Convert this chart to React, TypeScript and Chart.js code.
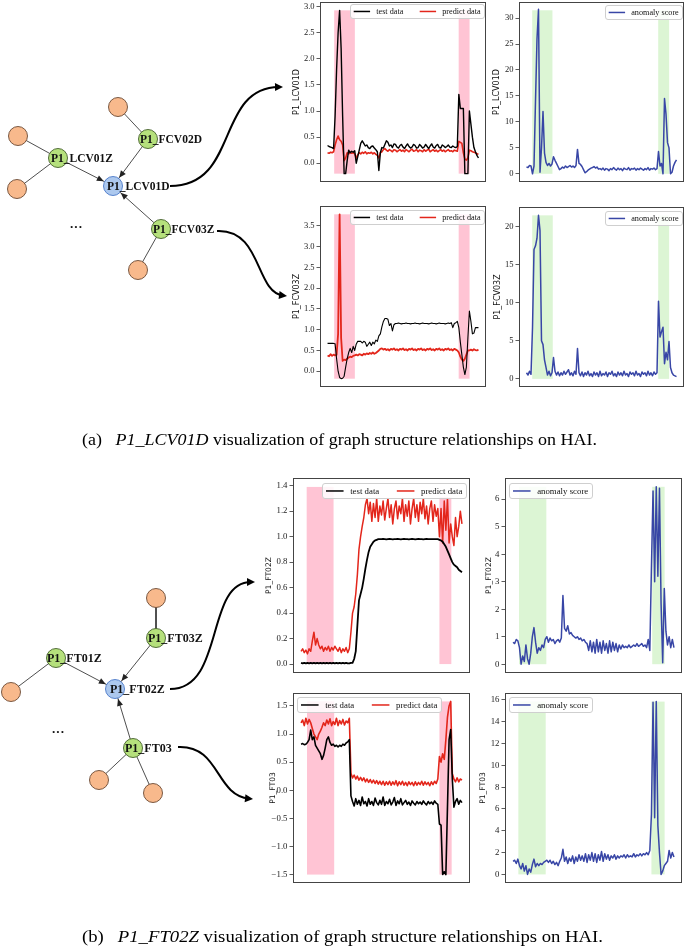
import React, { useEffect, useRef } from "react";
import { Chart, registerables } from "chart.js";

Chart.register(...registerables);

const SERIF = '"Liberation Serif", "Times New Roman", serif';
const SANS = '"DejaVu Sans", "Liberation Sans", sans-serif';

const C_TEST = "#000000";
const C_PRED = "#e3261b";
const C_SCORE = "#3846a6";
const C_PINK = "#ffc4d4";
const C_GREEN = "#dcf5d4";

// ---------------- data (index 0..100 along the time axis) ----------------
const LCV01D_test = [
  0.34, 0.32, 0.31, 0.3, 0.28, 0.9, 1.8, 2.5, 2.93, 2.2,
  0.9, -0.2, -0.2, 0.05, 0.25, 0.2, 0.23, 0.21, 0.24, 0.0,
  0.12, 0.25, 0.38, 0.43, 0.38, 0.33, 0.35, 0.3, 0.28, 0.32,
  0.33, 0.29, 0.26, 0.22, -0.14, 0.2, 0.3, 0.29, 0.36, 0.43,
  0.4, 0.33, 0.35, 0.3, 0.37, 0.36, 0.31, 0.29, 0.34, 0.36,
  0.31, 0.28, 0.33, 0.37, 0.32, 0.29, 0.31, 0.36, 0.34, 0.29,
  0.3, 0.36, 0.33, 0.29, 0.31, 0.36, 0.32, 0.28, 0.33, 0.37,
  0.31, 0.29, 0.34, 0.36, 0.3, 0.29, 0.35, 0.33, 0.3, 0.32,
  0.35, 0.31, 0.3, 0.33, 0.31, 0.3, 0.32, 1.32, 1.05, 1.05,
  1.05, -0.2, -0.2, -0.2, 1.0, 0.75, 0.5, 0.3, 0.22, 0.15,
  0.1,
];
const LCV01D_pred = [
  0.2, 0.19, 0.21, 0.2, 0.22, 0.35, 0.45, 0.52, 0.45, 0.42,
  0.35, 0.05, 0.1, 0.2, 0.18, 0.21, 0.19, 0.2, 0.18, 0.1,
  0.16, 0.2, 0.18, 0.21, 0.19, 0.22, 0.18, 0.2, 0.19, 0.21,
  0.18, 0.2, 0.17, 0.15, 0.1, 0.2, 0.22, 0.26, 0.28, 0.25,
  0.23, 0.26, 0.24, 0.22, 0.26, 0.25, 0.22, 0.24, 0.26, 0.23,
  0.25, 0.22, 0.26, 0.24, 0.22, 0.25, 0.27, 0.23, 0.24, 0.26,
  0.22, 0.25, 0.24, 0.22, 0.26, 0.23, 0.25, 0.27, 0.22, 0.24,
  0.26, 0.23, 0.25, 0.22, 0.24, 0.26, 0.23, 0.25, 0.22, 0.24,
  0.26, 0.23, 0.24, 0.22, 0.25, 0.24, 0.23, 0.42, 0.4, 0.38,
  0.2, 0.08, 0.06, 0.1, 0.25, 0.24, 0.22, 0.21, 0.2, 0.18,
  0.17,
];
const LCV01D_score = [
  1.3, 1.2, 1.6, 1.5, 0.0, 1.5, 14, 26, 31.7, 0.3,
  5, 12, 4, 2.2, 1.6, 2.0, 1.5, 1.9, 3.3, 2.6,
  2.0, 1.4, 0.8, 1.0, 1.3, 1.1, 1.5, 1.2, 1.4, 1.6,
  1.3, 1.5, 1.2, 1.6, 4.7, 2.0, 1.8, 1.4, 0.8, 0.2,
  0.4, 0.7, 0.9, 1.1, 1.2, 1.4, 1.1, 1.3, 0.9, 1.0,
  0.8, 1.1, 0.7, 1.0, 0.9, 0.6, 1.0, 0.8, 1.2, 0.9,
  0.7, 1.1, 0.8, 1.0, 0.6, 1.1, 0.9, 0.8, 1.2, 0.7,
  1.0, 0.9, 1.1, 0.7, 1.0, 0.8, 1.1, 0.9, 0.7, 1.0,
  0.8, 1.2, 0.7, 1.0, 0.9, 1.1, 0.8, 1.0, 4.3, 1.5,
  2.0, 0.0, 14.5, 11.5, 6, 5, 0.0, 0.3, 1.5, 2.2,
  2.7,
];
const FCV03Z_test = [
  0.67, 0.67, 0.67, 0.67, 0.67, 0.66, 0.3, 0.0, -0.15, -0.18,
  -0.17, -0.12, 0.1, 0.3, 0.45, 0.55, 0.45, 0.6, 0.5, 0.65,
  0.72, 0.72, 0.72, 0.68, 0.72, 0.7, 0.6, 0.65, 0.7, 0.62,
  0.7, 0.66, 0.75, 0.72, 0.85, 0.9, 1.07, 1.2, 1.27, 1.27,
  1.25, 1.1, 1.15, 0.97, 1.12, 1.15, 1.15, 1.16, 1.15, 1.14,
  1.15, 1.15, 1.16, 1.15, 1.15, 1.14, 1.15, 1.15, 1.16, 1.15,
  1.15, 1.14, 1.15, 1.16, 1.15, 1.15, 1.15, 1.14, 1.15, 1.16,
  1.15, 1.15, 1.14, 1.15, 1.16, 1.15, 1.15, 1.15, 1.14, 1.15,
  1.16, 1.15, 1.17, 1.05, 1.15, 1.17, 1.2, 1.05, 0.7, 0.4,
  0.1, -0.08, 0.1, 0.8, 1.45, 1.2, 0.9, 0.92, 1.05, 1.05,
  1.05,
];
const FCV03Z_pred = [
  0.38, 0.36, 0.41, 0.37, 0.4, 0.38, 0.4, 0.9, 3.78, 0.8,
  0.25, 0.28, 0.27, 0.3, 0.33, 0.35, 0.34, 0.37, 0.38, 0.4,
  0.38, 0.41, 0.4, 0.38, 0.42, 0.4, 0.43, 0.41, 0.44, 0.42,
  0.45, 0.42, 0.44, 0.47, 0.5, 0.54, 0.55, 0.52, 0.54, 0.51,
  0.53, 0.5, 0.54, 0.52, 0.55, 0.51, 0.53, 0.5, 0.54, 0.52,
  0.55, 0.51, 0.53, 0.5, 0.54, 0.52, 0.55, 0.51, 0.53, 0.5,
  0.54, 0.52, 0.55, 0.51, 0.53, 0.5, 0.54, 0.52, 0.55, 0.51,
  0.53, 0.5, 0.54, 0.52, 0.55, 0.51, 0.53, 0.5, 0.54, 0.52,
  0.55, 0.51, 0.53, 0.5, 0.54, 0.52, 0.5, 0.45, 0.35, 0.28,
  0.25, 0.3, 0.4, 0.5, 0.5, 0.52, 0.5, 0.53, 0.51, 0.5,
  0.52,
];
const FCV03Z_score = [
  0.8, 0.5, 1.0, 0.6, 6.7, 17, 17.5, 18.5, 21.5, 19.5,
  5, 4.5, 2.5, 1.5, 0.5, 1.0, 0.4, 0.8, 2.8, 1.0,
  0.5, 0.9, 0.4, 0.8, 0.5, 1.0, 0.6, 0.9, 1.2, 0.5,
  0.8, 0.4, 1.0, 0.6, 4.0, 0.8, 0.4, 0.9, 0.3, 0.8,
  0.5, 1.0, 0.4, 0.7, 0.3, 0.9, 0.5, 0.8, 0.3, 1.0,
  0.4, 0.7, 0.5, 0.9, 0.3, 0.8, 0.6, 1.0, 0.4, 0.7,
  0.3, 0.9, 0.5, 0.8, 0.4, 1.0, 0.5, 0.7, 0.3, 0.9,
  0.6, 0.8, 0.4, 1.0, 0.5, 0.7, 0.3, 0.9, 0.6, 0.8,
  0.4, 1.0, 0.5, 0.8, 0.4, 0.9, 0.6, 0.8, 10.2, 5.5,
  6.2, 6.8, 2.0, 3.5, 2.5, 4.9, 1.5, 0.8, 0.5, 0.4,
  0.3,
];
const FT02Z_test = [
  0.01, 0.005, 0.01, 0.005, 0.01, 0.005, 0.01, 0.005, 0.01, 0.005,
  0.01, 0.005, 0.01, 0.005, 0.01, 0.005, 0.01, 0.005, 0.01, 0.005,
  0.01, 0.005, 0.01, 0.005, 0.01, 0.005, 0.01, 0.005, 0.01, 0.005,
  0.005, 0.01, 0.01, 0.04, 0.1, 0.3, 0.5, 0.55, 0.6, 0.67,
  0.75, 0.82, 0.88, 0.92, 0.94, 0.96, 0.97, 0.975, 0.98, 0.98,
  0.98, 0.982, 0.98, 0.978, 0.98, 0.982, 0.98, 0.978, 0.98, 0.98,
  0.982, 0.98, 0.978, 0.98, 0.982, 0.98, 0.98, 0.978, 0.98, 0.982,
  0.98, 0.978, 0.98, 0.982, 0.98, 0.98, 0.978, 0.98, 0.982, 0.98,
  0.98, 0.98, 0.98, 0.98, 0.98, 0.98, 0.975, 0.97, 0.96, 0.94,
  0.92, 0.89, 0.86, 0.83, 0.8, 0.78, 0.77, 0.76, 0.74, 0.73,
  0.72,
];
const FT02Z_pred = [
  0.1, 0.12, 0.09, 0.11, 0.08, 0.12, 0.1, 0.18, 0.25, 0.15,
  0.2, 0.15, 0.12, 0.14, 0.1, 0.13, 0.11, 0.14, 0.1, 0.13,
  0.11, 0.14, 0.12, 0.1, 0.13, 0.09, 0.12, 0.1, 0.13, 0.09,
  0.12, 0.25, 0.4, 0.45, 0.55, 0.7, 0.9, 1.0, 1.08, 1.15,
  1.25, 1.3, 1.18, 1.27, 1.12, 1.26, 1.15, 1.3, 1.12, 1.24,
  1.17, 1.28, 1.13, 1.22, 1.3, 1.15, 1.25, 1.1, 1.22, 1.28,
  1.14, 1.24, 1.18, 1.3, 1.12, 1.25, 1.16, 1.28, 1.1, 1.22,
  1.3, 1.15, 1.25, 1.12, 1.27, 1.18, 1.3, 1.14, 1.24, 1.1,
  1.22, 1.28, 1.12, 1.25, 1.16, 1.22, 1.0, 1.22, 0.95, 1.28,
  1.05, 1.3, 0.95, 1.1, 1.0, 0.93, 1.15, 1.0, 1.08, 1.2,
  1.1,
];
const FT02Z_score = [
  0.8, 0.75, 0.9, 0.85, 0.6, 0.0, 0.3, 0.1, 0.7, 0.2,
  0.0, 0.4, 1.0, 1.33, 0.8, 0.4, 0.6, 0.5, 0.7, 0.6,
  0.9, 1.0, 0.8, 0.95, 0.85, 0.9, 0.75, 0.85, 0.9, 0.8,
  0.95, 2.5, 1.3, 1.2, 1.4, 1.1, 1.15, 1.05, 1.0, 0.95,
  1.0, 0.9, 0.95, 0.85, 0.9, 0.8, 0.75, 0.5, 0.85, 0.45,
  0.8, 0.4, 0.9, 0.45, 0.8, 0.4, 0.85, 0.5, 0.75, 0.4,
  0.85, 0.45, 0.8, 0.5, 0.75, 0.45, 0.7, 0.55, 0.7, 0.6,
  0.65, 0.6, 0.7, 0.6, 0.65, 0.7, 0.65, 0.75, 0.65, 0.7,
  0.75, 0.65, 0.7, 0.6, 0.9, 0.5, 3.5, 6.3, 3.0, 6.45,
  3.2, 6.4, 2.2, 0.05, 2.75, 1.2, 0.7, 1.0, 0.6, 0.9,
  0.6,
];
const FT03_test = [
  0.82, 0.83, 0.81, 0.82, 0.85, 0.9, 1.07, 0.9, 0.95, 0.8,
  0.75, 0.7, 0.65, 0.55, 0.62, 0.75, 0.9, 0.95, 0.85, 0.8,
  0.82, 0.78, 0.8, 0.77, 0.8, 0.78, 0.82, 0.8, 0.84, 0.86,
  0.9, -0.1, -0.2, -0.28, -0.15, -0.25, -0.18, -0.27, -0.12, -0.24,
  -0.2, -0.28, -0.15, -0.25, -0.2, -0.27, -0.14, -0.22, -0.26, -0.18,
  -0.25, -0.12, -0.27, -0.2, -0.24, -0.16, -0.26, -0.21, -0.13, -0.27,
  -0.19, -0.24, -0.15, -0.26, -0.22, -0.18, -0.25, -0.21, -0.27, -0.19,
  -0.23, -0.26, -0.2, -0.24, -0.21, -0.25, -0.19, -0.23, -0.26, -0.2,
  -0.24, -0.21, -0.25, -0.19, -0.23, -0.25, -0.6, -0.62, -1.5, -1.45,
  -1.5, -0.3, 0.9, 1.08, 0.2, -0.3, -0.2, -0.15, -0.25, -0.18,
  -0.22,
];
const FT03_pred = [
  1.2, 1.25, 1.15, 1.28, 1.18, 1.26, 1.2, 1.1, 1.0, 0.95,
  0.9, 1.0, 1.05, 1.12, 1.2, 1.15, 1.25, 1.18, 1.27, 1.15,
  1.22, 1.17, 1.28, 1.15, 1.24, 1.18, 1.26, 1.16, 1.23, 1.2,
  1.28, 0.3, 0.22, 0.27, 0.2, 0.25, 0.18, 0.23, 0.17, 0.22,
  0.15, 0.2, 0.14, 0.19, 0.13, 0.18, 0.12, 0.17, 0.11, 0.16,
  0.1, 0.16, 0.09, 0.15, 0.1, 0.16, 0.09, 0.15, 0.1, 0.17,
  0.08, 0.15, 0.1, 0.16, 0.09, 0.14, 0.08, 0.15, 0.1, 0.14,
  0.08, 0.15, 0.09, 0.14, 0.1, 0.16, 0.09, 0.15, 0.1, 0.14,
  0.08, 0.15, 0.1, 0.16, 0.12, 0.2, 0.6, 0.5, 0.65, 0.55,
  0.9, 1.3, 1.5, 1.58, 0.3, 0.2, 0.15, 0.22, 0.15, 0.2,
  0.18,
];
const FT03_score = [
  1.2, 1.3, 1.0, 1.4, 0.8, 0.5, 1.0, 0.3, 0.8, 0.0,
  0.5, 0.2, 0.9, 1.4, 0.7, 1.0, 0.8, 1.0, 0.9, 1.1,
  1.2, 1.3, 1.1, 1.3, 1.0, 1.2, 0.9, 1.1, 0.8, 1.2,
  1.5, 2.3, 1.2, 1.6, 1.0, 1.5, 1.2, 1.7, 1.0, 1.6,
  1.2, 1.8, 1.3, 1.7, 1.2, 1.9, 1.1, 1.8, 1.3, 2.0,
  1.2, 1.9, 1.1, 1.8, 1.3, 2.1, 1.2, 1.9, 1.4, 1.8,
  1.3, 1.7, 1.5, 1.8, 1.4, 1.7, 1.5, 1.7, 1.6, 1.8,
  1.5, 1.8, 1.6, 1.7, 1.6, 1.9, 1.6, 1.8, 1.7, 1.9,
  1.7, 1.9, 1.8, 2.0, 1.8, 2.2, 5.5, 15.8, 5.2, 15.85,
  4.5, 2.0, 0.0, 0.3, 0.8, 1.0, 1.2, 2.2, 1.5, 2.0,
  1.6,
];

// attack windows: [x start, x end, y low, y high]
const LCV01D_pred_spans = [[4.4, 18.1, -0.2, 2.93], [86.9, 94.1, -0.2, 2.93]];
const LCV01D_score_spans = [[3.8, 17.3, 0, 31.5], [87.8, 95.1, 0, 31.5]];
const FCV03Z_pred_spans = [[4.4, 18.1, -0.18, 3.78], [86.9, 94.1, -0.18, 3.78]];
const FCV03Z_score_spans = [[3.8, 17.5, 0, 21.5], [87.8, 95.1, 0, 21.5]];
const FT02Z_pred_spans = [[3.5, 20.2, 0, 1.39], [86, 93.4, 0, 1.31]];
const FT02Z_score_spans = [[3.7, 20.7, 0, 6.45], [86.5, 94.2, 0, 6.45]];
const FT03_pred_spans = [[3.7, 20.6, -1.5, 1.58], [86, 93.6, -1.5, 1.58]];
const FT03_score_spans = [[3.3, 20.3, 0, 15.85], [86, 94.2, 0, 15.85]];

const TICKS_LCV01D_pred = [0, 0.5, 1, 1.5, 2, 2.5, 3];
const TICKS_LCV01D_score = [0, 5, 10, 15, 20, 25, 30];
const TICKS_FCV03Z_pred = [0, 0.5, 1, 1.5, 2, 2.5, 3, 3.5];
const TICKS_FCV03Z_score = [0, 5, 10, 15, 20];
const TICKS_FT02Z_pred = [0, 0.2, 0.4, 0.6, 0.8, 1.0, 1.2, 1.4];
const TICKS_FT02Z_score = [0, 1, 2, 3, 4, 5, 6];
const TICKS_FT03_pred = [-1.5, -1.0, -0.5, 0, 0.5, 1.0, 1.5];
const TICKS_FT03_score = [0, 2, 4, 6, 8, 10, 12, 14, 16];

const LBL_TEST = "test data";
const LBL_PRED = "predict data";
const LBL_SCORE = "anomaly score";

// ---------------- graph diagram ----------------
const NODES = [
  { id: "a_o1", x: 18, y: 136, kind: "orange" },
  { id: "a_o2", x: 17, y: 189, kind: "orange" },
  { id: "a_LCV01Z", x: 58, y: 158, kind: "green" },
  { id: "a_o3", x: 118, y: 107, kind: "orange" },
  { id: "a_FCV02D", x: 148, y: 139, kind: "green" },
  { id: "a_LCV01D", x: 113, y: 186, kind: "blue" },
  { id: "a_FCV03Z", x: 161, y: 229, kind: "green" },
  { id: "a_o4", x: 138, y: 270, kind: "orange" },
  { id: "b_o1", x: 156, y: 598, kind: "orange" },
  { id: "b_FT03Z", x: 156, y: 638, kind: "green" },
  { id: "b_FT01Z", x: 56, y: 658, kind: "green" },
  { id: "b_o2", x: 11, y: 692, kind: "orange" },
  { id: "b_FT02Z", x: 115, y: 689, kind: "blue" },
  { id: "b_FT03", x: 133, y: 748, kind: "green" },
  { id: "b_o3", x: 99, y: 780, kind: "orange" },
  { id: "b_o4", x: 153, y: 793, kind: "orange" },
];
const EDGES: [string, string, boolean][] = [
  ["a_o1", "a_LCV01Z", false],
  ["a_o2", "a_LCV01Z", false],
  ["a_o3", "a_FCV02D", false],
  ["a_o4", "a_FCV03Z", false],
  ["a_LCV01Z", "a_LCV01D", true],
  ["a_FCV02D", "a_LCV01D", true],
  ["a_FCV03Z", "a_LCV01D", true],
  ["b_o1", "b_FT03Z", false],
  ["b_o2", "b_FT01Z", false],
  ["b_o3", "b_FT03", false],
  ["b_o4", "b_FT03", false],
  ["b_FT01Z", "b_FT02Z", true],
  ["b_FT03Z", "b_FT02Z", true],
  ["b_FT03", "b_FT02Z", true],
];
const NODE_LABELS = [
  { node: "a_LCV01Z", text: "P1_LCV01Z", dx: -7 },
  { node: "a_FCV02D", text: "P1_FCV02D", dx: -8 },
  { node: "a_LCV01D", text: "P1_LCV01D", dx: -6 },
  { node: "a_FCV03Z", text: "P1_FCV03Z", dx: -8 },
  { node: "b_FT03Z", text: "P1_FT03Z", dx: -8 },
  { node: "b_FT01Z", text: "P1_FT01Z", dx: -9 },
  { node: "b_FT02Z", text: "P1_FT02Z", dx: -5 },
  { node: "b_FT03", text: "P1_FT03", dx: -8 },
];
const ELLIPSES = [
  { x: 76, y: 228 },
  { x: 58, y: 733 },
];
// cubic curves: start, ctrl1, ctrl2, end
const CURVES = [
  [170, 186, 240, 186, 215, 88, 283, 87],
  [217, 231, 262, 229, 255, 292, 287, 296],
  [170, 689, 225, 689, 205, 582, 255, 582],
  [178, 747, 220, 745, 215, 795, 253, 799],
];
const CAPTIONS = [
  { tag: "(a)", it: "P1_LCV01D", rest: " visualization of graph structure relationships on HAI.", x: 82, y: 445, w: 515 },
  { tag: "(b)", it: "P1_FT02Z", rest: " visualization of graph structure relationships on HAI.", x: 82, y: 942, w: 521 },
];

const NODE_STYLE: Record<string, [string, string]> = {
  orange: ["#f8b98c", "#6b4a33"],
  green: ["#b5e07c", "#44602a"],
  blue: ["#acc8ee", "#4a78c8"],
};
const NODE_R = 9.5;

function arrowHead(ctx: any, tx: number, ty: number, ux: number, uy: number, len: number, half: number) {
  const bx = tx - ux * len;
  const by = ty - uy * len;
  ctx.beginPath();
  ctx.moveTo(tx, ty);
  ctx.lineTo(bx - uy * half, by + ux * half);
  ctx.lineTo(bx + uy * half, by - ux * half);
  ctx.closePath();
  ctx.fill();
}

function Diagram() {
  const ref = useRef<HTMLCanvasElement>(null);
  useEffect(() => {
    const byId: any = {};
    NODES.forEach((n) => (byId[n.id] = n));
    const nodeSets = ["blue", "green", "orange"].map((k) => ({
      data: NODES.filter((n) => n.kind === k).map((n) => ({ x: n.x, y: n.y })),
      pointRadius: NODE_R,
      pointHoverRadius: NODE_R,
      backgroundColor: NODE_STYLE[k][0],
      borderColor: NODE_STYLE[k][1],
      borderWidth: 0.9,
      showLine: false,
      clip: false,
    }));
    const edgeSets = EDGES.map(([a, b]) => ({
      data: [
        { x: byId[a].x, y: byId[a].y },
        { x: byId[b].x, y: byId[b].y },
      ],
      showLine: true,
      borderColor: "#222",
      borderWidth: 0.8,
      pointRadius: 0,
      clip: false,
    }));
    const deco = {
      id: "diagramDeco",
      afterDatasetsDraw(chart: any) {
        const ctx = chart.ctx;
        const xs = chart.scales.x;
        const ys = chart.scales.y;
        const px = (x: number) => xs.getPixelForValue(x);
        const py = (y: number) => ys.getPixelForValue(y);
        ctx.save();
        // arrowheads on directed edges
        ctx.fillStyle = "#222";
        EDGES.forEach(([a, b, arrow]) => {
          if (!arrow) return;
          const ax = px(byId[a].x), ay = py(byId[a].y);
          const bx = px(byId[b].x), by = py(byId[b].y);
          const d = Math.hypot(bx - ax, by - ay);
          const ux = (bx - ax) / d, uy = (by - ay) / d;
          arrowHead(ctx, bx - ux * (NODE_R + 0.8), by - uy * (NODE_R + 0.8), ux, uy, 7, 3);
        });
        // labels
        ctx.fillStyle = "#111";
        ctx.textAlign = "left";
        ctx.textBaseline = "alphabetic";
        NODE_LABELS.forEach((l) => {
          const n = byId[l.node];
          ctx.font = `bold ${n.y > 400 ? 12 : 11.5}px ${SERIF}`;
          ctx.fillText(l.text, px(n.x) + l.dx, py(n.y) + 4.2);
        });
        ctx.font = `bold 13px ${SERIF}`;
        ctx.textAlign = "center";
        ELLIPSES.forEach((e) => ctx.fillText("···", px(e.x), py(e.y) + 3));
        // curved arrows
        ctx.strokeStyle = "#000";
        ctx.fillStyle = "#000";
        ctx.lineWidth = 2;
        CURVES.forEach((c) => {
          const [x0, y0, x1, y1, x2, y2, x3, y3] = c;
          const dx = px(x3) - px(x2), dy = py(y3) - py(y2);
          const d = Math.hypot(dx, dy);
          const ux = dx / d, uy = dy / d;
          ctx.beginPath();
          ctx.moveTo(px(x0), py(y0));
          ctx.bezierCurveTo(px(x1), py(y1), px(x2), py(y2), px(x3) - ux * 4, py(y3) - uy * 4);
          ctx.stroke();
          arrowHead(ctx, px(x3), py(y3), ux, uy, 8, 4);
        });
        // captions
        CAPTIONS.forEach((c) => {
          const size = 16;
          const fN = `${size}px ${SERIF}`;
          const fI = `italic ${size}px ${SERIF}`;
          const gap = 12;
          ctx.font = fN;
          const w1 = ctx.measureText(c.tag).width;
          const w3 = ctx.measureText(c.rest).width;
          ctx.font = fI;
          const w2 = ctx.measureText(c.it).width;
          const total = w1 + gap + w2 + w3;
          const sx = c.w / total;
          ctx.save();
          ctx.translate(px(c.x), py(c.y));
          ctx.scale(sx, 1);
          ctx.textAlign = "left";
          ctx.fillStyle = "#000";
          ctx.font = fN;
          ctx.fillText(c.tag, 0, 0);
          ctx.font = fI;
          ctx.fillText(c.it, w1 + gap, 0);
          ctx.font = fN;
          ctx.fillText(c.rest, w1 + gap + w2, 0);
          ctx.restore();
        });
        ctx.restore();
      },
    };
    const chart = new Chart(ref.current as any, {
      type: "scatter",
      data: { datasets: [...nodeSets, ...edgeSets] as any },
      options: {
        responsive: false,
        animation: false,
        events: [],
        layout: { padding: 0, autoPadding: false },
        plugins: { legend: { display: false }, tooltip: { enabled: false } },
        scales: {
          x: { type: "linear", min: 0, max: 685, display: false },
          y: { type: "linear", min: 0, max: 948, reverse: true, display: false },
        },
      } as any,
      plugins: [deco],
    });
    return () => chart.destroy();
  }, []);
  return (
    <canvas
      ref={ref}
      width={685}
      height={948}
      style={{ position: "absolute", left: 0, top: 0, width: 685, height: 948 }}
    />
  );
}

// ---------------- panels ----------------
type PanelCfg = {
  box: number[];
  yMin: number;
  yMax: number;
  ticks: number[];
  dec: number;
  title: string;
  titleOff: number;
  series: { data: number[]; color: string; label: string; width: number }[];
  spans: number[][];
  spanColor: string;
  legendAlign: "left" | "right";
  legendDx: number;
  legendDy: number;
  small: boolean;
};

const PANELS: PanelCfg[] = [
  {
    box: [320, 2, 486, 182], yMin: -0.36, yMax: 3.09, ticks: TICKS_LCV01D_pred, dec: 1,
    title: "P1_LCV01D", titleOff: 23,
    series: [
      { data: LCV01D_test, color: C_TEST, label: LBL_TEST, width: 1.4 },
      { data: LCV01D_pred, color: C_PRED, label: LBL_PRED, width: 1.6 },
    ],
    spans: LCV01D_pred_spans, spanColor: C_PINK, legendAlign: "right", legendDx: 2, legendDy: 2, small: true,
  },
  {
    box: [519, 2, 684, 182], yMin: -1.58, yMax: 33.1, ticks: TICKS_LCV01D_score, dec: 0,
    title: "P1_LCV01D", titleOff: 22,
    series: [{ data: LCV01D_score, color: C_SCORE, label: LBL_SCORE, width: 1.5 }],
    spans: LCV01D_score_spans, spanColor: C_GREEN, legendAlign: "right", legendDx: 2, legendDy: 3, small: true,
  },
  {
    box: [320, 206, 486, 387], yMin: -0.38, yMax: 3.98, ticks: TICKS_FCV03Z_pred, dec: 1,
    title: "P1_FCV03Z", titleOff: 23,
    series: [
      { data: FCV03Z_test, color: C_TEST, label: LBL_TEST, width: 1.1 },
      { data: FCV03Z_pred, color: C_PRED, label: LBL_PRED, width: 1.8 },
    ],
    spans: FCV03Z_pred_spans, spanColor: C_PINK, legendAlign: "right", legendDx: 2, legendDy: 4, small: true,
  },
  {
    box: [519, 207, 684, 387], yMin: -1.07, yMax: 22.6, ticks: TICKS_FCV03Z_score, dec: 0,
    title: "P1_FCV03Z", titleOff: 21,
    series: [{ data: FCV03Z_score, color: C_SCORE, label: LBL_SCORE, width: 1.5 }],
    spans: FCV03Z_score_spans, spanColor: C_GREEN, legendAlign: "right", legendDx: 2, legendDy: 4, small: true,
  },
  {
    box: [293, 478, 470, 673], yMin: -0.07, yMax: 1.46, ticks: TICKS_FT02Z_pred, dec: 1,
    title: "P1_FT02Z", titleOff: 24,
    series: [
      { data: FT02Z_test, color: C_TEST, label: LBL_TEST, width: 1.8 },
      { data: FT02Z_pred, color: C_PRED, label: LBL_PRED, width: 1.5 },
    ],
    spans: FT02Z_pred_spans, spanColor: C_PINK, legendAlign: "right", legendDx: 4, legendDy: 5, small: false,
  },
  {
    box: [505, 478, 682, 673], yMin: -0.32, yMax: 6.77, ticks: TICKS_FT02Z_score, dec: 0,
    title: "P1_FT02Z", titleOff: 16,
    series: [{ data: FT02Z_score, color: C_SCORE, label: LBL_SCORE, width: 1.5 }],
    spans: FT02Z_score_spans, spanColor: C_GREEN, legendAlign: "left", legendDx: 4, legendDy: 5, small: false,
  },
  {
    box: [293, 693, 470, 883], yMin: -1.65, yMax: 1.73, ticks: TICKS_FT03_pred, dec: 1,
    title: "P1_FT03", titleOff: 20,
    series: [
      { data: FT03_test, color: C_TEST, label: LBL_TEST, width: 1.6 },
      { data: FT03_pred, color: C_PRED, label: LBL_PRED, width: 1.6 },
    ],
    spans: FT03_pred_spans, spanColor: C_PINK, legendAlign: "left", legendDx: 4, legendDy: 4, small: false,
  },
  {
    box: [505, 693, 682, 883], yMin: -0.79, yMax: 16.64, ticks: TICKS_FT03_score, dec: 0,
    title: "P1_FT03", titleOff: 22,
    series: [{ data: FT03_score, color: C_SCORE, label: LBL_SCORE, width: 1.5 }],
    spans: FT03_score_spans, spanColor: C_GREEN, legendAlign: "left", legendDx: 4, legendDy: 4, small: false,
  },
];

const AXW = 36;
const PAD_T = 10;
const PAD_B = 10;
const PAD_R = 2;

function fmtTick(v: number, dec: number) {
  const s = Number(v).toFixed(dec);
  return s.startsWith("-") ? "\u2212" + s.slice(1) : s;
}

function roundRectPath(ctx: any, x: number, y: number, w: number, h: number, r: number) {
  ctx.beginPath();
  ctx.moveTo(x + r, y);
  ctx.lineTo(x + w - r, y);
  ctx.arcTo(x + w, y, x + w, y + r, r);
  ctx.lineTo(x + w, y + h - r);
  ctx.arcTo(x + w, y + h, x + w - r, y + h, r);
  ctx.lineTo(x + r, y + h);
  ctx.arcTo(x, y + h, x, y + h - r, r);
  ctx.lineTo(x, y + r);
  ctx.arcTo(x, y, x + r, y, r);
  ctx.closePath();
}

function Panel({ cfg }: { cfg: PanelCfg }) {
  const ref = useRef<HTMLCanvasElement>(null);
  const [l, t, r, b] = cfg.box;
  const W = r - l + AXW + PAD_R;
  const H = b - t + PAD_T + PAD_B;
  useEffect(() => {
    const tickSize = cfg.small ? 8.5 : 8.8;
    const legSize = cfg.small ? 8.2 : 8.8;
    const titleSize = cfg.small ? 8 : 7.6;
    const deco = {
      id: "panelDeco",
      beforeDatasetsDraw(chart: any) {
        const ctx = chart.ctx;
        const xs = chart.scales.x, ys = chart.scales.y;
        ctx.save();
        ctx.fillStyle = cfg.spanColor;
        cfg.spans.forEach(([x0, x1, y0, y1]) => {
          const X0 = xs.getPixelForValue(x0), X1 = xs.getPixelForValue(x1);
          const Y0 = ys.getPixelForValue(y0), Y1 = ys.getPixelForValue(y1);
          ctx.fillRect(X0, Y1, X1 - X0, Y0 - Y1);
        });
        ctx.restore();
      },
      afterDraw(chart: any) {
        const ctx = chart.ctx;
        const a = chart.chartArea;
        ctx.save();
        // frame
        ctx.strokeStyle = "#444";
        ctx.lineWidth = 1;
        ctx.strokeRect(Math.round(a.left) + 0.5, Math.round(a.top) + 0.5, Math.round(a.right - a.left) - 1, Math.round(a.bottom - a.top) - 1);
        // y title
        ctx.save();
        ctx.translate(a.left - cfg.titleOff, (a.top + a.bottom) / 2);
        ctx.rotate(-Math.PI / 2);
        ctx.font = `${titleSize}px ${SANS}`;
        ctx.fillStyle = "#111";
        ctx.textAlign = "center";
        ctx.textBaseline = "middle";
        ctx.fillText(cfg.title, 0, 0);
        ctx.restore();
        // legend
        const fs = legSize;
        ctx.font = `${fs}px ${SERIF}`;
        const handle = 2 * fs, gap = 0.75 * fs, col = 2 * fs, pad = 0.45 * fs;
        const items = cfg.series.map((s) => ({ ...s, w: ctx.measureText(s.label).width }));
        let LW = pad * 2;
        items.forEach((it, i) => (LW += handle + gap + it.w + (i > 0 ? col : 0)));
        const LH = fs * 1.7;
        const x0 = cfg.legendAlign === "right" ? a.right - cfg.legendDx - LW : a.left + cfg.legendDx;
        const y0 = a.top + cfg.legendDy;
        roundRectPath(ctx, Math.round(x0) + 0.5, Math.round(y0) + 0.5, Math.round(LW), Math.round(LH), 2.5);
        ctx.fillStyle = "rgba(255,255,255,0.85)";
        ctx.fill();
        ctx.strokeStyle = "#cfcfcf";
        ctx.lineWidth = 1;
        ctx.stroke();
        let x = Math.round(x0) + pad;
        const ym = Math.round(y0) + LH / 2 + 0.5;
        items.forEach((it, i) => {
          if (i > 0) x += col;
          ctx.beginPath();
          ctx.moveTo(x, ym);
          ctx.lineTo(x + handle, ym);
          ctx.strokeStyle = it.color;
          ctx.lineWidth = 1.5;
          ctx.stroke();
          x += handle + gap;
          ctx.fillStyle = "#111";
          ctx.textAlign = "left";
          ctx.textBaseline = "middle";
          ctx.fillText(it.label, x, ym + 0.5);
          x += it.w;
        });
        ctx.restore();
      },
    };
    const chart = new Chart(ref.current as any, {
      type: "line",
      data: {
        datasets: cfg.series.map((s) => ({
          label: s.label,
          data: s.data.map((v, i) => ({ x: i, y: v })),
          borderColor: s.color,
          borderWidth: s.width,
          pointRadius: 0,
          tension: 0,
          fill: false,
          borderJoinStyle: "round",
        })),
      },
      options: {
        responsive: false,
        animation: false,
        events: [],
        layout: { padding: { left: 0, right: PAD_R, top: PAD_T, bottom: PAD_B }, autoPadding: false },
        plugins: { legend: { display: false }, tooltip: { enabled: false } },
        scales: {
          x: { type: "linear", min: -5, max: 105, display: false },
          y: {
            type: "linear",
            min: cfg.yMin,
            max: cfg.yMax,
            afterBuildTicks: (axis: any) => {
              axis.ticks = cfg.ticks.map((v) => ({ value: v }));
            },
            afterFit: (axis: any) => {
              axis.width = AXW;
            },
            ticks: {
              autoSkip: false,
              padding: 2,
              color: "#222",
              font: { family: SERIF, size: tickSize },
              callback: (v: any) => fmtTick(v, cfg.dec),
            },
            grid: {
              display: true,
              drawOnChartArea: false,
              drawTicks: true,
              tickLength: 3.5,
              tickColor: "#333",
              tickWidth: 0.8,
            },
            border: { display: false },
          },
        },
      } as any,
      plugins: [deco],
    });
    return () => chart.destroy();
  }, []);
  return (
    <canvas
      ref={ref}
      width={W}
      height={H}
      style={{ position: "absolute", left: l - AXW, top: t - PAD_T, width: W, height: H }}
    />
  );
}

export default function App() {
  return (
    <div style={{ position: "absolute", left: 0, top: 0, width: 685, height: 948, background: "#fff", overflow: "hidden" }}>
      <Diagram />
      {PANELS.map((p, i) => (
        <Panel key={i} cfg={p} />
      ))}
    </div>
  );
}
